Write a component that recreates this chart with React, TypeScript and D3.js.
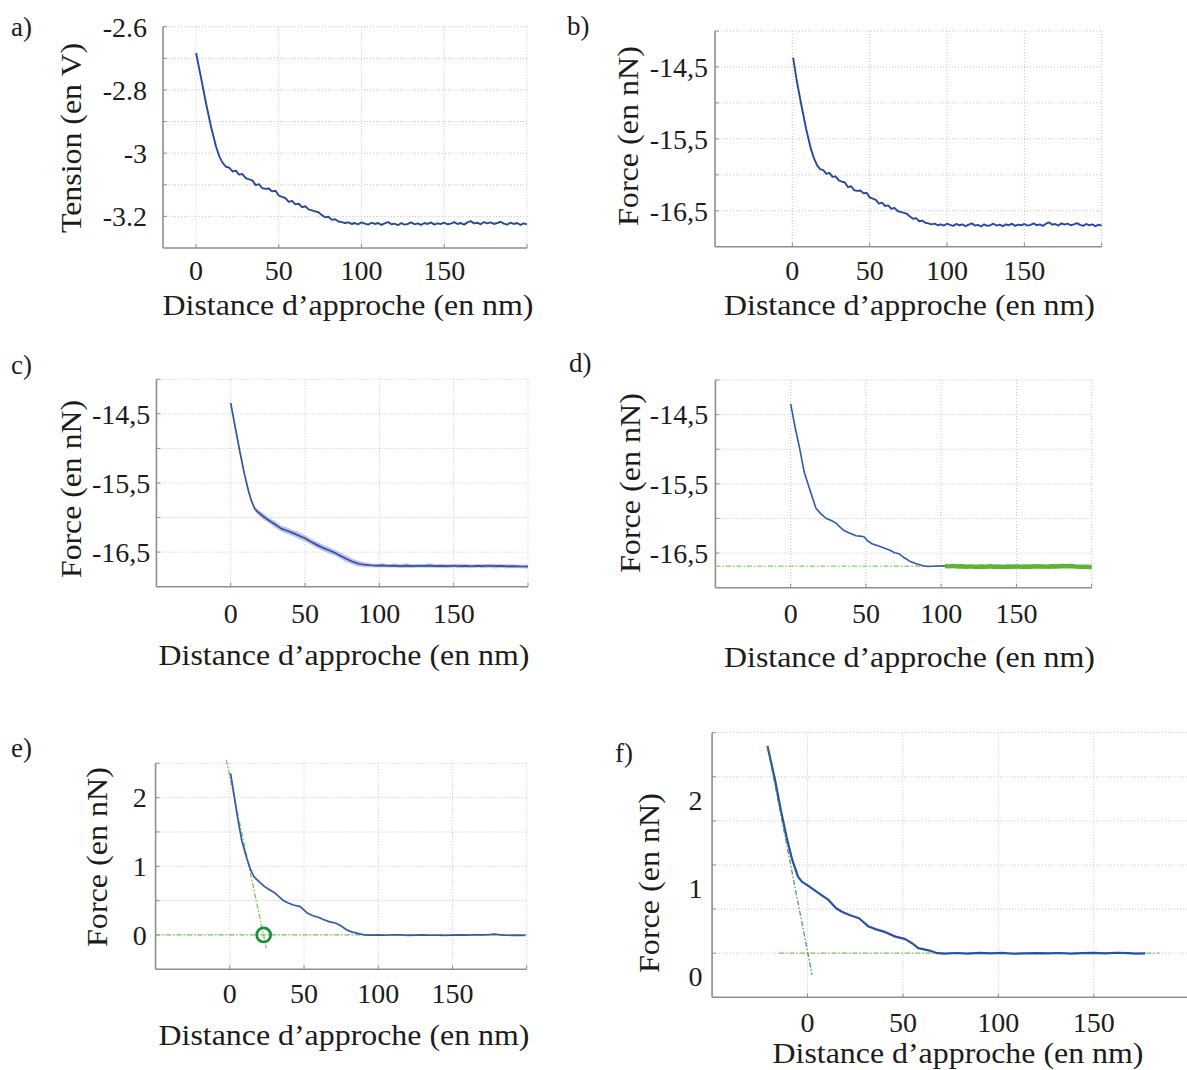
import React from "react";
import * as d3 from "d3";

// ---------------- data ----------------
const xTickValues = [0, 50, 100, 150];
const xTickText = ["0", "50", "100", "150"];
const xGridValues = [0, 50, 100, 150, 200];

const tensionTickValues = [-2.6, -2.8, -3, -3.2];
const tensionTickText = ["-2.6", "-2.8", "-3", "-3.2"];
const tensionGrid = [-3.2, -3.1, -3.0, -2.9, -2.8, -2.7, -2.6];

const forceTickValues = [-14.5, -15.5, -16.5];
const forceTickText = ["-14,5", "-15,5", "-16,5"];
const forceGrid = [-16.5, -16, -15.5, -15, -14.5, -14];

const shiftedTickValues = [0, 1, 2];
const shiftedTickText = ["0", "1", "2"];
const shiftedGrid = [0, 0.5, 1, 1.5, 2, 2.5];
const fTickLabelPos = [-0.26, 0.74, 1.74];

// common sampling distances (nm) of the raw noisy records a) and b)
const distGrid = [
  18, 20, 22, 24, 26, 28, 30, 32, 34, 36, 38, 40, 42, 44, 46, 48, 50, 52, 54, 56,
  58, 60, 62, 64, 66, 68, 70, 72, 74, 76, 78, 80, 82, 84, 86, 88, 90, 92, 94, 96,
  98, 100, 102, 104, 106, 108, 110, 112, 114, 116, 118, 120, 122, 124, 126, 128, 130, 132, 134, 136,
  138, 140, 142, 144, 146, 148, 150, 152, 154, 156, 158, 160, 162, 164, 166, 168, 170, 172, 174, 176,
  178, 180, 182, 184, 186, 188, 190, 192, 194, 196, 198, 200,
];

// a) tension (V)
const aSteepDist = [0, 3, 6, 9, 12, 14, 16];
const aSteepTension = [-2.683, -2.762, -2.842, -2.916, -2.978, -3.01, -3.03];
const aTension = [
  -3.043, -3.046, -3.058, -3.055, -3.068, -3.066, -3.079, -3.083, -3.086, -3.101,
  -3.098, -3.111, -3.113, -3.112, -3.121, -3.119, -3.134, -3.138, -3.142, -3.154,
  -3.151, -3.162, -3.160, -3.171, -3.168, -3.178, -3.181, -3.184, -3.187, -3.196,
  -3.203, -3.201, -3.211, -3.209, -3.216, -3.218, -3.221, -3.219, -3.224, -3.221,
  -3.225, -3.219, -3.223, -3.226, -3.220, -3.224, -3.221, -3.227, -3.222, -3.218,
  -3.225, -3.223, -3.228, -3.221, -3.226, -3.224, -3.219, -3.225, -3.222, -3.227,
  -3.221, -3.224, -3.219, -3.226, -3.222, -3.224, -3.220, -3.225, -3.223, -3.218,
  -3.224, -3.221, -3.226, -3.219, -3.215, -3.222, -3.220, -3.225, -3.218, -3.222,
  -3.219, -3.224, -3.221, -3.217, -3.223, -3.226, -3.220, -3.224, -3.221, -3.227,
  -3.222, -3.225,
];

// b) force (nN)
const bSteepDist = [0.5, 3, 6, 9, 12, 14, 16];
const bSteepForce = [-14.37, -14.71, -15.05, -15.37, -15.64, -15.77, -15.87];
const bForce = [
  -15.922, -15.935, -15.986, -15.973, -16.029, -16.021, -16.077, -16.094, -16.107, -16.172,
  -16.159, -16.215, -16.223, -16.219, -16.258, -16.249, -16.314, -16.331, -16.348, -16.4,
  -16.387, -16.434, -16.426, -16.473, -16.46, -16.503, -16.516, -16.529, -16.542, -16.581,
  -16.611, -16.603, -16.646, -16.637, -16.667, -16.676, -16.689, -16.68, -16.702, -16.689,
  -16.706, -16.68, -16.697, -16.71, -16.684, -16.702, -16.689, -16.715, -16.693, -16.676,
  -16.706, -16.697, -16.719, -16.689, -16.71, -16.702, -16.68, -16.706, -16.693, -16.715,
  -16.689, -16.702, -16.68, -16.71, -16.693, -16.702, -16.684, -16.706, -16.697, -16.676,
  -16.702, -16.689, -16.71, -16.68, -16.663, -16.693, -16.684, -16.706, -16.676, -16.693,
  -16.68, -16.702, -16.689, -16.672, -16.697, -16.71, -16.684, -16.702, -16.689, -16.715,
  -16.693, -16.706,
];

// c) averaged force with spread band (nN)
const cDist = [
  0, 3, 6, 9, 12, 14, 16,
  18, 22, 26, 30, 34, 38, 42, 46, 50, 54, 58, 62, 66, 70, 74, 78, 82, 86, 90,
  94, 98, 102, 106, 110, 114, 118, 122, 126, 130, 134, 138, 142, 146, 150, 154, 158, 162, 166, 170,
  174, 178, 182, 186, 190, 194, 198, 200,
];
const cForce = [
  -14.344, -14.69, -15.03, -15.35, -15.62, -15.76, -15.865,
  -15.915, -15.985, -16.045, -16.1, -16.16, -16.19, -16.225, -16.262, -16.3, -16.35, -16.395, -16.438, -16.472, -16.51,
  -16.555, -16.598, -16.638, -16.668, -16.682,
  -16.69, -16.696, -16.692, -16.699, -16.694, -16.701, -16.696, -16.703, -16.697, -16.7, -16.694, -16.702, -16.698,
  -16.703, -16.697, -16.701, -16.699, -16.704, -16.698, -16.702, -16.697, -16.703, -16.7, -16.705, -16.703, -16.707,
  -16.708, -16.71,
];
const cSpread = [
  0.012, 0.014, 0.016, 0.018, 0.02, 0.022, 0.025,
  0.04, 0.045, 0.038, 0.05, 0.042, 0.048, 0.04, 0.052, 0.045, 0.04, 0.05, 0.043, 0.047, 0.04,
  0.045, 0.05, 0.042, 0.038, 0.035,
  0.03, 0.026, 0.032, 0.025, 0.03, 0.028, 0.034, 0.026, 0.03, 0.027, 0.033, 0.025, 0.03,
  0.029, 0.026, 0.032, 0.027, 0.03, 0.025, 0.031, 0.028, 0.033, 0.026, 0.03, 0.028, 0.025,
  0.03, 0.028,
];

// d) smoothed approach + fitted free region
const dBlueDist = [0, 3, 6, 9, 12.8, 16.8, 20, 23.4, 27, 30.1, 33, 35.4, 39, 43.4, 46, 48.7, 51, 54, 58, 62, 66, 69, 72, 75, 79.4, 83, 87.4, 91, 94, 98, 102.5];
const dBlueForce = [
  -14.346, -14.69, -14.99, -15.33, -15.59, -15.853, -15.93, -15.997, -16.03, -16.068, -16.13, -16.174, -16.21,
  -16.25, -16.255, -16.265, -16.32, -16.365, -16.395, -16.427, -16.46, -16.495, -16.51, -16.56, -16.62, -16.65,
  -16.68, -16.693, -16.69, -16.687, -16.685,
];
const dGreenDist = [102.5, 105, 108, 111, 114, 117, 120, 123, 126, 129, 132, 135, 138, 141, 144, 147, 150, 153, 156, 159, 162, 165, 168, 171, 174, 177, 180, 183, 186, 189, 192, 195, 198, 200];
const dGreenForce = [
  -16.688, -16.692, -16.685, -16.695, -16.69, -16.698, -16.692, -16.7, -16.694, -16.699, -16.691, -16.697,
  -16.693, -16.7, -16.695, -16.698, -16.693, -16.699, -16.694, -16.697, -16.69, -16.695, -16.692, -16.696,
  -16.69, -16.694, -16.688, -16.691, -16.686, -16.693, -16.697, -16.699, -16.702, -16.7,
];
const dBaselineDist = [-50, 200];
const dBaselineForce = [-16.69, -16.69];

// e) offset-corrected force
const eDist = [0.5, 3, 5.3, 8, 11.4, 14, 16.2, 18.6, 23.4, 27, 30.7, 35.5, 39, 42.7, 47.5, 52.4, 56, 59.6, 63, 66.8, 71.6, 75, 78.9, 82, 86.1, 90.9, 95, 100, 105, 110, 115, 120, 125, 130, 135, 140, 145, 150, 155, 160, 165, 170, 175, 178, 181, 185, 190, 195, 199];
const eForce = [
  2.354, 2.02, 1.699, 1.38, 1.116, 0.95, 0.85, 0.8, 0.704, 0.655, 0.607, 0.51, 0.47, 0.437, 0.413, 0.316, 0.28,
  0.258, 0.225, 0.195, 0.17, 0.13, 0.073, 0.045, 0.024, 0.0, -0.003, 0.002, -0.004, 0.003, 0.0, -0.005, -0.002,
  0.001, -0.004, -0.002, -0.006, -0.003, 0.001, -0.002, 0.003, 0.001, 0.006, 0.012, 0.004, -0.002, -0.005, -0.003, -0.006,
];
const eTangentDist = [-2.4, 24.6];
const eTangentForce = [2.55, -0.19];
const eBaselineDist = [-50, 200];
const eBaselineForce = [0, 0];
const eContactDist = 22.8;
const eContactForce = 0;

// f) shifted to the contact point
const fDist = [-21, -17, -14, -11, -8, -5, -3, 1, 6, 11, 15, 18, 22, 27, 32, 36, 40, 46, 51, 55, 58, 64, 68, 72, 78, 84, 90, 96, 102, 108, 114, 120, 126, 132, 138, 144, 150, 156, 162, 168, 172, 177];
const fForce = [
  2.348, 1.963, 1.623, 1.32, 1.057, 0.868, 0.811, 0.754, 0.679, 0.604, 0.51, 0.47, 0.434, 0.396, 0.302, 0.27,
  0.245, 0.188, 0.162, 0.11, 0.057, 0.03, 0.0, -0.005, 0.002, -0.004, 0.003, -0.002, 0.004, -0.006, -0.002,
  0.001, -0.003, 0.002, -0.004, 0.0, 0.003, -0.002, 0.005, 0.0, -0.004, -0.003,
];
const fTangentDist = [-21, 2.4];
const fTangentForce = [2.35, -0.246];
const fBaselineDist = [-15, 184.4];
const fBaselineForce = [0, 0];

// ---------------- styles ----------------
const FONT = '"Liberation Serif", "DejaVu Serif", "Times New Roman", serif';
const TEXT = "#1c1c1c";
const GRID = "#c4c4c4";
const AXIS = "#8e8e8e";
const BLUE = "#27489c";
const DASHDOT = "5,2,1.5,2";
const textStyle: React.CSSProperties = { fontFamily: FONT };

type Scale = d3.ScaleLinear<number, number>;
type Spec = {
  left: number; right: number; top: number; bottom: number;
  xDomain: [number, number]; yDomain: [number, number];
  yGrid: number[]; yTickPos: number[]; yTickText: string[]; yTickRight: number;
  xTickBaseline: number; xLabelX: number; xLabelY: number;
  yLabel: string; yLabelX: number; yLabelY: number; yLabelLen: number;
  letter: string; letterX: number; letterY: number;
};

function Panel({ s, children }: { s: Spec; children: (x: Scale, y: Scale) => React.ReactNode }) {
  const x = d3.scaleLinear().domain(s.xDomain).range([s.left, s.right]);
  const y = d3.scaleLinear().domain(s.yDomain).range([s.bottom, s.top]);
  return (
    <g>
      {s.yGrid.map((v) => (
        <line key={"gy" + v} x1={s.left} x2={s.right} y1={y(v)} y2={y(v)} stroke={GRID} strokeWidth={1} strokeDasharray="1,2" />
      ))}
      {xGridValues.map((v) => (
        <line key={"gx" + v} x1={x(v)} x2={x(v)} y1={s.top} y2={s.bottom} stroke={GRID} strokeWidth={1} strokeDasharray="1,2" />
      ))}
      {s.yGrid.map((v) => (
        <line key={"ty" + v} x1={s.left} x2={s.left + 4} y1={y(v)} y2={y(v)} stroke={AXIS} strokeWidth={1} />
      ))}
      {xGridValues.map((v) => (
        <line key={"tx" + v} x1={x(v)} x2={x(v)} y1={s.bottom} y2={s.bottom - 4} stroke={AXIS} strokeWidth={1} />
      ))}
      <line x1={s.left} x2={s.left} y1={s.top} y2={s.bottom} stroke={AXIS} strokeWidth={1.6} />
      <line x1={s.left} x2={s.right} y1={s.bottom} y2={s.bottom} stroke={AXIS} strokeWidth={1.6} />
      {children(x, y)}
      {s.yTickPos.map((v, i) => (
        <text key={"yl" + i} style={textStyle} x={s.yTickRight} y={y(v)} dy="0.35em" textAnchor="end" fontSize={28} fill={TEXT}>
          {s.yTickText[i]}
        </text>
      ))}
      {xTickValues.map((v, i) => (
        <text key={"xl" + i} style={textStyle} x={x(v)} y={s.xTickBaseline} textAnchor="middle" fontSize={28} fill={TEXT}>
          {xTickText[i]}
        </text>
      ))}
      <text style={textStyle} x={s.xLabelX} y={s.xLabelY} textAnchor="middle" fontSize={29} fill={TEXT} textLength={371} lengthAdjust="spacingAndGlyphs">
        Distance d’approche (en nm)
      </text>
      <text style={textStyle} transform={`translate(${s.yLabelX},${s.yLabelY}) rotate(-90)`} textAnchor="middle" fontSize={29} fill={TEXT} textLength={s.yLabelLen} lengthAdjust="spacingAndGlyphs">
        {s.yLabel}
      </text>
      <text style={textStyle} x={s.letterX} y={s.letterY} fontSize={27} fill={TEXT}>{s.letter}</text>
    </g>
  );
}

function pathOf(x: Scale, y: Scale, xs: number[], ys: number[]) {
  const line = d3.line<[number, number]>().x((d) => x(d[0])).y((d) => y(d[1]));
  return line(d3.zip(xs, ys) as [number, number][]) || "";
}

const specA: Spec = {
  left: 163, right: 527, top: 26.7, bottom: 248, xDomain: [-20, 200], yDomain: [-3.3, -2.6],
  yGrid: tensionGrid, yTickPos: tensionTickValues, yTickText: tensionTickText, yTickRight: 147,
  xTickBaseline: 280, xLabelX: 348, xLabelY: 315,
  yLabel: "Tension (en V)", yLabelX: 80.5, yLabelY: 138, yLabelLen: 190,
  letter: "a)", letterX: 11, letterY: 36,
};
const specB: Spec = {
  left: 715, right: 1101.7, top: 31, bottom: 246.7, xDomain: [-50, 200], yDomain: [-17, -14],
  yGrid: forceGrid, yTickPos: forceTickValues, yTickText: forceTickText, yTickRight: 708,
  xTickBaseline: 280, xLabelX: 909.5, xLabelY: 315,
  yLabel: "Force (en nN)", yLabelX: 638, yLabelY: 136, yLabelLen: 180,
  letter: "b)", letterX: 567, letterY: 35,
};
const specC: Spec = {
  left: 156.4, right: 528, top: 379.3, bottom: 586.7, xDomain: [-50, 200], yDomain: [-17, -14],
  yGrid: forceGrid, yTickPos: forceTickValues, yTickText: forceTickText, yTickRight: 150.3,
  xTickBaseline: 623, xLabelX: 344, xLabelY: 665,
  yLabel: "Force (en nN)", yLabelX: 80.5, yLabelY: 489, yLabelLen: 178,
  letter: "c)", letterX: 11, letterY: 374,
};
const specD: Spec = {
  left: 715.4, right: 1091.7, top: 380, bottom: 587.7, xDomain: [-50, 200], yDomain: [-17, -14],
  yGrid: forceGrid, yTickPos: forceTickValues, yTickText: forceTickText, yTickRight: 708.2,
  xTickBaseline: 623, xLabelX: 909.5, xLabelY: 667,
  yLabel: "Force (en nN)", yLabelX: 640, yLabelY: 483, yLabelLen: 180,
  letter: "d)", letterX: 569, letterY: 372,
};
const specE: Spec = {
  left: 155.6, right: 526.7, top: 763.3, bottom: 969.3, xDomain: [-50, 200], yDomain: [-0.5, 2.5],
  yGrid: shiftedGrid, yTickPos: shiftedTickValues, yTickText: shiftedTickText, yTickRight: 146.7,
  xTickBaseline: 1003, xLabelX: 344, xLabelY: 1045,
  yLabel: "Force (en nN)", yLabelX: 107, yLabelY: 857, yLabelLen: 180,
  letter: "e)", letterX: 11, letterY: 757,
};
const specF: Spec = {
  left: 712.1, right: 1189.2, top: 732.7, bottom: 997.3, xDomain: [-50, 200], yDomain: [-0.5, 2.5],
  yGrid: shiftedGrid, yTickPos: fTickLabelPos, yTickText: shiftedTickText, yTickRight: 702.6,
  xTickBaseline: 1032, xLabelX: 958, xLabelY: 1063,
  yLabel: "Force (en nN)", yLabelX: 658.7, yLabelY: 883, yLabelLen: 180,
  letter: "f)", letterX: 615, letterY: 762,
};

export default function App() {
  return (
    <svg width={1187} height={1070} style={{ position: "absolute", left: 0, top: 0 }}>
      <rect x={0} y={0} width={1187} height={1070} fill="#ffffff" />
      <Panel s={specA}>
        {(x, y) => (
          <path d={pathOf(x, y, aSteepDist.concat(distGrid), aSteepTension.concat(aTension))} fill="none" stroke={BLUE} strokeWidth={1.9} strokeLinejoin="round" />
        )}
      </Panel>
      <Panel s={specB}>
        {(x, y) => (
          <path d={pathOf(x, y, bSteepDist.concat(distGrid), bSteepForce.concat(bForce))} fill="none" stroke={BLUE} strokeWidth={1.9} strokeLinejoin="round" />
        )}
      </Panel>
      <Panel s={specC}>
        {(x, y) => {
          const pts = d3.zip(cDist, cForce, cSpread) as [number, number, number][];
          const band = d3.area<[number, number, number]>()
            .x((d) => x(d[0]))
            .y0((d) => y(d[1] - d[2]))
            .y1((d) => y(d[1] + d[2]));
          return (
            <g>
              <path d={band(pts) || ""} fill="#9aa3dd" fillOpacity={0.65} stroke="none" />
              <path d={pathOf(x, y, cDist, cForce)} fill="none" stroke="#3550a8" strokeWidth={1.7} strokeLinejoin="round" />
            </g>
          );
        }}
      </Panel>
      <Panel s={specD}>
        {(x, y) => (
          <g>
            <path d={pathOf(x, y, dBaselineDist, dBaselineForce)} fill="none" stroke="#92d67c" strokeWidth={1.3} strokeDasharray={DASHDOT} />
            <path d={pathOf(x, y, dBlueDist, dBlueForce)} fill="none" stroke="#2f58b4" strokeWidth={1.6} strokeLinejoin="round" />
            <path d={pathOf(x, y, dGreenDist, dGreenForce)} fill="none" stroke="#5bb531" strokeWidth={4.5} strokeLinejoin="round" />
          </g>
        )}
      </Panel>
      <Panel s={specE}>
        {(x, y) => (
          <g>
            <path d={pathOf(x, y, eBaselineDist, eBaselineForce)} fill="none" stroke="#74c85e" strokeWidth={1.3} strokeDasharray={DASHDOT} />
            <path d={pathOf(x, y, eTangentDist, eTangentForce)} fill="none" stroke="#74c85e" strokeWidth={1.3} strokeDasharray={DASHDOT} />
            <path d={pathOf(x, y, eDist, eForce)} fill="none" stroke="#3358b2" strokeWidth={1.7} strokeLinejoin="round" />
            <circle cx={x(eContactDist)} cy={y(eContactForce)} r={7} fill="none" stroke="#17923a" strokeWidth={2.8} />
          </g>
        )}
      </Panel>
      <Panel s={specF}>
        {(x, y) => (
          <g>
            <path d={pathOf(x, y, fBaselineDist, fBaselineForce)} fill="none" stroke="#74c85e" strokeWidth={1.3} strokeDasharray={DASHDOT} />
            <path d={pathOf(x, y, fDist, fForce)} fill="none" stroke="#2b4fa6" strokeWidth={2.2} strokeLinejoin="round" />
            <path d={pathOf(x, y, fTangentDist, fTangentForce)} fill="none" stroke="#2f8a4c" strokeWidth={1.3} strokeDasharray={DASHDOT} strokeOpacity={0.85} />
          </g>
        )}
      </Panel>
    </svg>
  );
}
